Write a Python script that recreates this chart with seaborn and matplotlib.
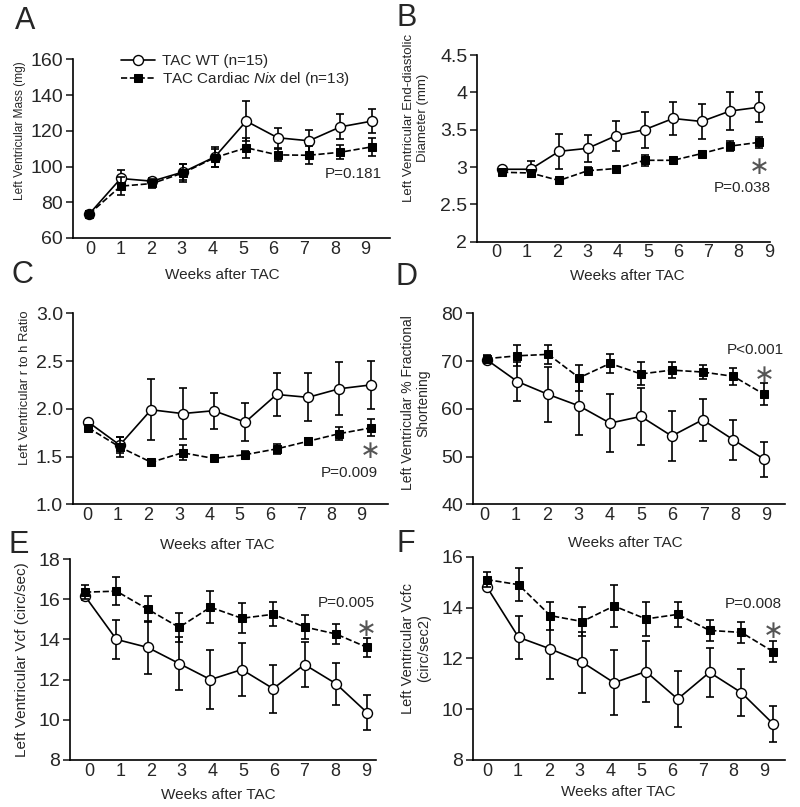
import numpy as np
import pandas as pd
import matplotlib
matplotlib.use("Agg")
import matplotlib.pyplot as plt
import seaborn as sns

# ---------------- data ----------------
weeks = list(range(10))
week_labels = [str(w) for w in weeks]

wt_label = "TAC WT (n=15)"
nix_label = r"TAC Cardiac $\mathit{Nix}$ del (n=13)"

# A: LV mass (mg)
mass_wt = [73.5, 93.3, 91.8, 97.0, 105.4, 125.4, 116.1, 114.4, 122.2, 125.4]
mass_wt_err = [1.5, 5.0, 2.0, 4.5, 5.5, 11.0, 5.5, 6.3, 7.0, 6.6]
mass_nix = [73.5, 89.0, 90.5, 96.5, 105.0, 110.5, 106.5, 106.3, 108.0, 111.0]
mass_nix_err = [1.5, 5.0, 2.5, 5.0, 5.0, 5.6, 3.5, 5.0, 4.0, 5.0]

# B: LV end-diastolic diameter (mm)
edd_wt = [2.97, 2.97, 3.21, 3.25, 3.42, 3.50, 3.65, 3.61, 3.75, 3.80]
edd_wt_err = [0.02, 0.11, 0.23, 0.18, 0.20, 0.24, 0.22, 0.24, 0.25, 0.20]
edd_nix = [2.93, 2.92, 2.82, 2.95, 2.98, 3.09, 3.09, 3.18, 3.28, 3.33]
edd_nix_err = [0.03, 0.04, 0.03, 0.05, 0.04, 0.07, 0.04, 0.04, 0.07, 0.07]

# C: r to h ratio
rh_wt = [1.86, 1.62, 1.99, 1.95, 1.98, 1.86, 2.15, 2.12, 2.21, 2.25]
rh_wt_err = [0.02, 0.08, 0.32, 0.27, 0.19, 0.20, 0.23, 0.25, 0.28, 0.25]
rh_nix = [1.80, 1.60, 1.44, 1.54, 1.48, 1.52, 1.58, 1.66, 1.74, 1.80]
rh_nix_err = [0.02, 0.10, 0.03, 0.08, 0.03, 0.04, 0.05, 0.03, 0.07, 0.09]

# D: % fractional shortening
fs_wt = [70.3, 65.7, 63.0, 60.6, 57.0, 58.4, 54.3, 57.7, 53.5, 49.4]
fs_wt_err = [0.5, 4.0, 5.8, 6.0, 6.0, 5.9, 5.2, 4.4, 4.2, 3.7]
fs_nix = [70.5, 71.1, 71.4, 66.5, 69.5, 67.3, 68.1, 67.7, 66.8, 63.0]
fs_nix_err = [0.7, 2.2, 2.0, 2.7, 1.9, 2.4, 1.6, 1.4, 1.8, 2.3]

# E: Vcf (circ/sec)
vcf_wt = [16.15, 14.0, 13.6, 12.8, 12.0, 12.5, 11.55, 12.75, 11.8, 10.35]
vcf_wt_err = [0.2, 0.97, 1.3, 1.3, 1.45, 1.3, 1.2, 1.1, 1.05, 0.87]
vcf_nix = [16.35, 16.4, 15.5, 14.6, 15.6, 15.05, 15.25, 14.62, 14.27, 13.6]
vcf_nix_err = [0.35, 0.7, 0.65, 0.73, 0.8, 0.74, 0.6, 0.6, 0.5, 0.47]

# F: Vcfc (circ/sec2)
vcfc_wt = [14.82, 12.83, 12.37, 11.85, 11.04, 11.48, 10.4, 11.45, 10.65, 9.42]
vcfc_wt_err = [0.15, 0.85, 1.17, 1.2, 1.28, 1.2, 1.1, 0.97, 0.92, 0.72]
vcfc_nix = [15.1, 14.9, 13.68, 13.45, 14.06, 13.55, 13.73, 13.1, 13.02, 12.26]
vcfc_nix_err = [0.3, 0.65, 0.55, 0.56, 0.81, 0.68, 0.48, 0.4, 0.4, 0.42]

p_values = ["P=0.181", "P=0.038", "P=0.009", "P<0.001", "P=0.005", "P=0.008"]
panel_letters = ["A", "B", "C", "D", "E", "F"]
ylabels = [
    "Left Ventricular Mass (mg)",
    "Left Ventricular End-diastolic\nDiameter (mm)",
    "Left Ventricular r to h Ratio",
    "Left Ventricular % Fractional\nShortening",
    "Left Ventricular Vcf (circ/sec)",
    "Left Ventricular Vcfc\n(circ/sec2)",
]
xlabel = "Weeks after TAC"
yticks_list = [
    [60, 80, 100, 120, 140, 160],
    [2, 2.5, 3, 3.5, 4, 4.5],
    [1.0, 1.5, 2.0, 2.5, 3.0],
    [40, 50, 60, 70, 80],
    [8, 10, 12, 14, 16, 18],
    [8, 10, 12, 14, 16],
]
ytick_labels_list = [
    ["60", "80", "100", "120", "140", "160"],
    ["2", "2.5", "3", "3.5", "4", "4.5"],
    ["1.0", "1.5", "2.0", "2.5", "3.0"],
    ["40", "50", "60", "70", "80"],
    ["8", "10", "12", "14", "16", "18"],
    ["8", "10", "12", "14", "16"],
]

series = [
    (mass_wt, mass_wt_err, mass_nix, mass_nix_err),
    (edd_wt, edd_wt_err, edd_nix, edd_nix_err),
    (rh_wt, rh_wt_err, rh_nix, rh_nix_err),
    (fs_wt, fs_wt_err, fs_nix, fs_nix_err),
    (vcf_wt, vcf_wt_err, vcf_nix, vcf_nix_err),
    (vcfc_wt, vcfc_wt_err, vcfc_nix, vcfc_nix_err),
]

# ---------------- layout (pixels, top-left origin) ----------------
W, H = 800, 807
layout = [
    dict(rect=(72.7, 59.3, 390, 238), xlim=(-0.53, 9.58), tl=(0.02, 8.80),
         yl=(20, 131, 8.6), xl=(222, 275), p=(353, 174), star=None, letter=(25, 21)),
    dict(rect=(477, 55, 770, 241.7), xlim=(-0.88, 9.40), tl=(-0.19, 9.36),
         yl=(416, 118, 9.5), xl=(627, 276), p=(742, 188), star=(759, 164), letter=(407, 18)),
    dict(rect=(72.7, 313.3, 388, 504.3), xlim=(-0.50, 9.55), tl=(-0.03, 8.71),
         yl=(25, 388, 9.4), xl=(217, 545), p=(349, 473), star=(370.7, 449), letter=(22, 275)),
    dict(rect=(472.7, 313.3, 785, 504.3), xlim=(-0.45, 9.67), tl=(-0.06, 9.06),
         yl=(416, 403, 10.0), xl=(625, 543), p=(755, 350), star=(764, 373), letter=(407, 277)),
    dict(rect=(70, 559, 376, 760), xlim=(-0.48, 9.28), tl=(0.14, 8.96),
         yl=(22, 660, 11.0), xl=(218, 795), p=(346, 603), star=(366, 626), letter=(19, 545)),
    dict(rect=(473, 556.7, 785, 760), xlim=(-0.43, 9.37), tl=(0.02, 8.72),
         yl=(416, 648, 10.5), xl=(618, 792), p=(753, 604), star=(773.3, 629), letter=(406, 544)),
]

sns.set_style("ticks")
plt.rcParams["font.family"] = ["Liberation Sans", "DejaVu Sans"]
plt.rcParams["mathtext.fontset"] = "custom"
plt.rcParams["mathtext.rm"] = "Liberation Sans"
plt.rcParams["mathtext.it"] = "Liberation Sans:italic"

fig = plt.figure(figsize=(W / 100, H / 100), dpi=100)
fig.patch.set_facecolor("white")

def fx(px):
    return px / W

def fy(py):
    return 1 - py / H

LW = 1.2
for i, (cfg, (wt, wte, nx, nxe)) in enumerate(zip(layout, series)):
    x0, yt, x1, yb = cfg["rect"]
    ax = fig.add_axes([fx(x0), fy(yb), (x1 - x0) / W, (yb - yt) / H])
    ax.set_facecolor("white")
    df_wt = pd.DataFrame({"week": weeks, "value": wt})
    df_nx = pd.DataFrame({"week": weeks, "value": nx})

    # WT
    ax.errorbar(df_wt["week"], df_wt["value"], yerr=wte, fmt="none", ecolor="black",
                elinewidth=LW, capsize=3.0, capthick=LW, zorder=2)
    sns.lineplot(data=df_wt, x="week", y="value", ax=ax, color="black", lw=LW,
                 marker="o", markersize=7.2, markerfacecolor="white",
                 markeredgecolor="black", markeredgewidth=1.0,
                 label=wt_label if i == 0 else None, legend=False, zorder=3)
    # Nix
    ax.errorbar(df_nx["week"], df_nx["value"], yerr=nxe, fmt="none", ecolor="black",
                elinewidth=LW, capsize=3.0, capthick=LW, zorder=4)
    sns.lineplot(data=df_nx, x="week", y="value", ax=ax, color="black", lw=LW,
                 marker="s", markersize=6.2, markerfacecolor="black",
                 markeredgecolor="black", dashes=(6, 3.5), linestyle="--",
                 label=nix_label if i == 0 else None, legend=False, zorder=5)

    ax.set_xlim(*cfg["xlim"])
    ax.set_ylim(yticks_list[i][0], yticks_list[i][-1])
    ax.set_yticks(yticks_list[i], ytick_labels_list[i])
    ax.set_xticks(np.linspace(cfg["tl"][0], cfg["tl"][1], len(week_labels)), week_labels)
    ax.tick_params(axis="x", length=0, pad=2, labelsize=13)
    ax.tick_params(axis="y", length=5, width=LW, pad=2, labelsize=14, direction="out")
    for s in ["top", "right"]:
        ax.spines[s].set_visible(False)
    for s in ["left", "bottom"]:
        ax.spines[s].set_linewidth(LW)
        ax.spines[s].set_color("black")

    ax.set_xlabel("")
    ax.set_ylabel("")
    ylx, yly, ylsize = cfg["yl"]
    fig.text(fx(ylx), fy(yly), ylabels[i], rotation=90, ha="center", va="center",
             fontsize=ylsize, linespacing=1.15)
    fig.text(fx(cfg["xl"][0]), fy(cfg["xl"][1]), xlabel, ha="center", va="center", fontsize=11)
    fig.text(fx(cfg["p"][0]), fy(cfg["p"][1]), p_values[i], ha="center", va="center", fontsize=11)
    if cfg["star"] is not None:
        fig.text(fx(cfg["star"][0]), fy(cfg["star"][1]), "\u2217", ha="center",
                 va="center_baseline", fontsize=18, color="#555555", family="DejaVu Sans")
    fig.text(fx(cfg["letter"][0]), fy(cfg["letter"][1]), panel_letters[i], ha="center",
             va="center", fontsize=22)

    if i == 0:
        handles, labels = ax.get_legend_handles_labels()
        ax.legend(handles, labels, loc="upper left",
                  bbox_to_anchor=(fx(121), fy(54)), bbox_transform=fig.transFigure,
                  frameon=False, fontsize=11, handlelength=2.2, handletextpad=0.5,
                  borderpad=0, borderaxespad=0, labelspacing=0.15)

fig.savefig("out.png", dpi=100, facecolor="white")
